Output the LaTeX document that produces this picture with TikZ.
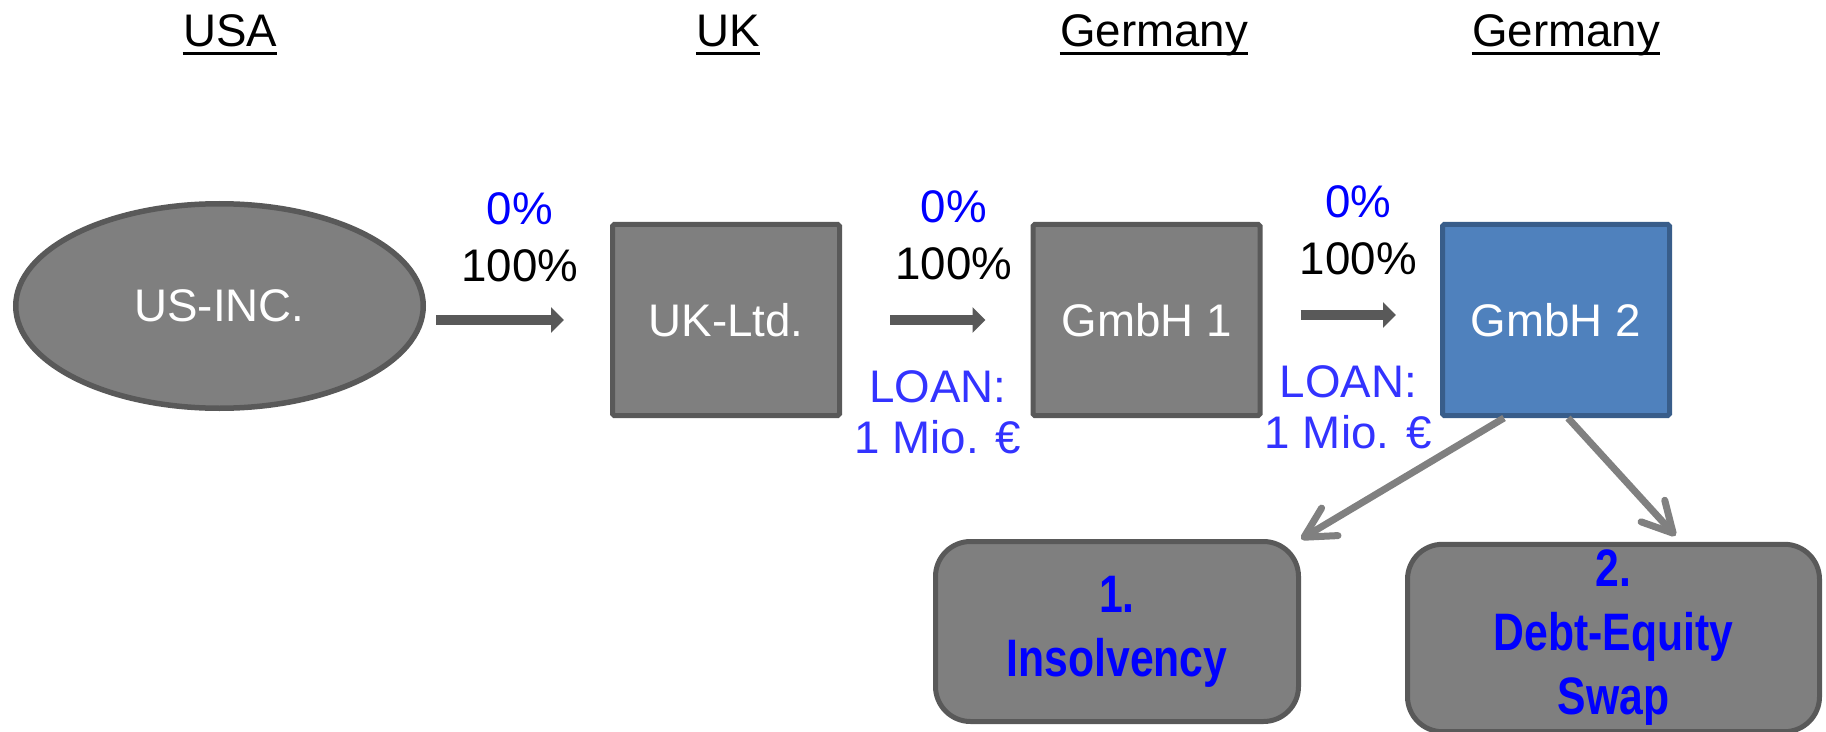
\documentclass[tikz,border=0pt]{standalone}
\usepackage{fontspec}
\setmainfont{Liberation Sans}
\newfontfamily\narrowsf[FakeStretch=0.81]{Liberation Sans}
\usetikzlibrary{shapes,arrows.meta}
\definecolor{boxgray}{HTML}{7F7F7F}
\definecolor{edgegray}{HTML}{595959}
\definecolor{arrowgray}{HTML}{808080}
\definecolor{pctblue}{HTML}{0000FF}
\definecolor{loanblue}{HTML}{3333FF}
\definecolor{gmbhblue}{HTML}{4F81BD}
\definecolor{gmbhedge}{HTML}{385D8A}
\tikzstyle{company} = [ellipse, draw=edgegray, line width=0.11cm, fill=boxgray, text=white,
    minimum width=8.15cm, minimum height=4.09cm, font=\fontsize{26}{31}\selectfont]
\tikzstyle{block} = [rectangle, draw=edgegray, line width=0.1cm, fill=boxgray, text=white,
    rounded corners=1pt, minimum width=4.54cm, minimum height=3.82cm, font=\fontsize{26}{31}\selectfont]
\tikzstyle{outcome} = [rectangle, draw=edgegray, line width=0.1cm, fill=boxgray, text=pctblue,
    rounded corners=0.7cm, align=center, font=\narrowsf\bfseries\fontsize{30}{36.4}\selectfont]
\tikzstyle{hdr} = [anchor=base, inner sep=0pt, font=\fontsize{26}{31}\selectfont]
\tikzstyle{pct} = [anchor=south, inner sep=0pt, align=center, font=\fontsize{26}{32.4}\selectfont]
\tikzstyle{loan} = [anchor=north, inner sep=0pt, align=center, text=loanblue, font=\fontsize{26}{29}\selectfont]
\tikzstyle{uline} = [draw, line width=0.066cm]
\tikzstyle{own} = [draw=edgegray, line width=0.21cm, -{Triangle[length=2.6mm, width=5mm]}]
\tikzstyle{split} = [draw=arrowgray, line width=0.14cm, -{Straight Barb[length=6mm, width=6.4mm, round]}]

\begin{document}
\begin{tikzpicture}[node distance = 2cm]
    \useasboundingbox (0,0) rectangle (36.52,-14.64);
    % Country headings
    \node [hdr] (husa) at (4.6,-0.94) {USA};
    \node [hdr] (huk) at (14.56,-0.94) {UK};
    \node [hdr] (hde1) at (23.08,-0.94) {Germany};
    \node [hdr] (hde2) at (31.32,-0.94) {Germany};
    \foreach \h in {husa,huk,hde1,hde2}
        \path [uline] ([yshift=-1.3mm] \h.base west) -- ([yshift=-1.3mm] \h.base east);
    % Place nodes
    \node [company] (us) at (4.39,-6.12) {US-INC.};
    \node [block, right of=us, node distance=10.13cm, yshift=-2.8mm] (uk) {UK-Ltd.};
    \node [block, right of=uk, node distance=8.41cm] (gmbh1) {GmbH 1};
    \node [block, right of=gmbh1, node distance=8.19cm, fill=gmbhblue, draw=gmbhedge] (gmbh2) {GmbH 2};
    \node [outcome, below of=gmbh1, node distance=6.23cm, xshift=-5.9mm,
        minimum width=7.26cm, minimum height=3.6cm] (ins) {1.\\Insolvency};
    \node [outcome, below of=gmbh2, node distance=6.36cm, xshift=11.5mm,
        minimum width=8.24cm, minimum height=3.58cm] (des) {2.\\Debt-Equity\\Swap};
    % Draw edges
    \path [own] ([xshift=2mm, yshift=-2.8mm] us.east) --
        node [pct, xshift=4mm, yshift=6.6mm] (pct1) {\textcolor{pctblue}{0\%}\\100\%}
        ([xshift=-9.2mm] uk.west);
    \path [own] ([xshift=9.6mm] uk.east) --
        node [pct, xshift=3.2mm, yshift=7mm] (pct2) {\textcolor{pctblue}{0\%}\\100\%}
        node [loan, yshift=-9mm] (loan1) {LOAN:\\1 Mio. €}
        ([xshift=-9mm] gmbh1.west);
    \path [own] ([xshift=7.6mm, yshift=1mm] gmbh1.east) --
        node [pct, xshift=2mm, yshift=7mm] (pct3) {\textcolor{pctblue}{0\%}\\100\%}
        node [loan, yshift=-9mm] (loan2) {LOAN:\\1 Mio. €}
        ([xshift=-8.8mm, yshift=1mm] gmbh2.west);
    \path [split] ([xshift=-10.4mm] gmbh2.south) -- (ins.north east);
    \path [split] ([xshift=2.4mm] gmbh2.south) -- ([xshift=12.4mm, yshift=1.2mm] des.north);
\end{tikzpicture}
\end{document}
